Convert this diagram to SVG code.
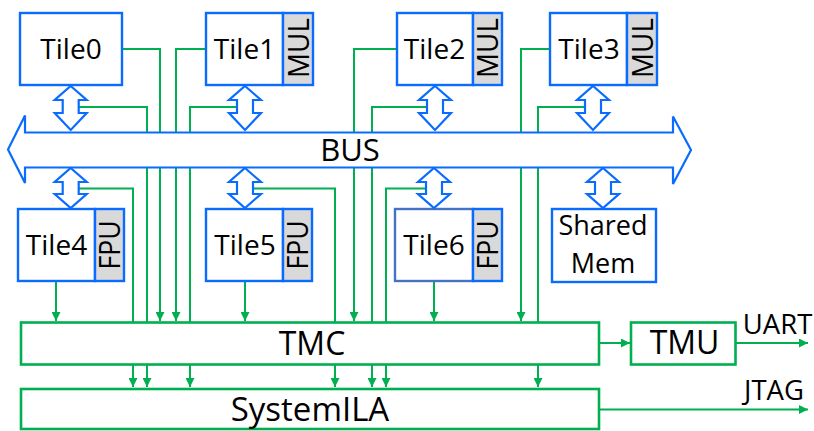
<svg xmlns="http://www.w3.org/2000/svg" width="814" height="431" viewBox="0 0 814 431">
  <style>
    .blk { fill: #ffffff; stroke: #0a6cff; stroke-width: 2.4; }
    .blk6 { fill: #ffffff; stroke: #4472c4; stroke-width: 2.4; }
    .unit { fill: #d9d9d9; stroke: #0a6cff; stroke-width: 2.4; }
    .dbl { fill: #ffffff; stroke: #0a6cff; stroke-width: 2.2; stroke-linejoin: miter; }
    .ctl { fill: #ffffff; stroke: #00b050; stroke-width: 2.6; }
    .wire { fill: none; stroke: #00b050; stroke-width: 2; }
    .arr { marker-end: url(#head); }
    text { font-family: "Open Sans", "Liberation Sans", sans-serif; fill: #000000; text-anchor: middle; }
    .lbl { font-size: 28px; }
    .vert { font-size: 29px; }
    .big { font-size: 32px; }
    .io { font-size: 27.5px; }
  </style>
  <defs>
    <marker id="head" viewBox="0 0 10 10" refX="10" refY="5" markerWidth="9" markerHeight="9" markerUnits="userSpaceOnUse" orient="auto">
      <path d="M0,0 L10,5 L0,10 Z" fill="#00b050"/>
    </marker>
    <!-- bidirectional link between a block and the bus -->
    <path id="link-up" d="M0,86 L16,100 L8,100 L8,113 L16,113 L0,130 L-16,113 L-8,113 L-8,100 L-16,100 Z"/>
    <path id="link-dn" d="M0,168 L16,182 L8,182 L8,194 L16,194 L0,208 L-16,194 L-8,194 L-8,182 L-16,182 Z"/>
  </defs>

  <!-- monitoring and output wires -->
  <g id="connectors">
    <path class="wire arr" d="M122,49 H160 V321"/>
    <path class="wire arr" d="M79,107 H147 V387"/>
    <path class="wire arr" d="M206,49 H176 V321"/>
    <path class="wire arr" d="M237,107 H190 V387"/>
    <path class="wire arr" d="M397,49 H354 V321"/>
    <path class="wire arr" d="M427,107 H372 V387"/>
    <path class="wire arr" d="M550,49 H521 V321"/>
    <path class="wire arr" d="M585,107 H538 V387"/>
    <path class="wire arr" d="M79,188.5 H133 V387"/>
    <path class="wire arr" d="M56,281 V321"/>
    <path class="wire arr" d="M253,188.5 H335 V387"/>
    <path class="wire arr" d="M245,281 V321"/>
    <path class="wire arr" d="M426,188.5 H386 V387"/>
    <path class="wire arr" d="M434,281 V321"/>
    <path class="wire arr" d="M599,343 H630"/>
    <path class="wire arr" d="M736,343 H808"/>
    <path class="wire arr" d="M599,409.5 H808"/>
  </g>

  <!-- shared bus -->
  <g id="bus">
    <path class="dbl" d="M8,149.5 L25,115.5 L25,132.5 L673,132.5 L673,116.5 L691,150 L673,184 L673,167.5 L25,167.5 L25,183 Z"/>
    <text class="lbl" x="350" y="160.5" style="font-size:31px">BUS</text>
  </g>

  <g id="tile0">
    <rect class="blk" x="20" y="13" width="102" height="72"/>
    <use href="#link-up" class="dbl" x="70.7"/>
    <text class="lbl" x="71" y="59">Tile0</text>
  </g>

  <g id="tile1">
    <rect class="blk" x="206" y="13" width="77" height="72"/>
    <rect class="unit" x="283" y="13" width="30" height="72"/>
    <use href="#link-up" class="dbl" x="245"/>
    <text class="lbl" x="244.5" y="59">Tile1</text>
    <text class="vert" transform="translate(308.5,48) rotate(-90)" textLength="60" lengthAdjust="spacingAndGlyphs">MUL</text>
  </g>

  <g id="tile2">
    <rect class="blk" x="397" y="13" width="76" height="72"/>
    <rect class="unit" x="473" y="13" width="29" height="72"/>
    <use href="#link-up" class="dbl" x="435"/>
    <text class="lbl" x="434.5" y="59">Tile2</text>
    <text class="vert" transform="translate(498,48) rotate(-90)" textLength="60" lengthAdjust="spacingAndGlyphs">MUL</text>
  </g>

  <g id="tile3">
    <rect class="blk" x="550" y="13" width="77" height="72"/>
    <rect class="unit" x="627" y="13" width="30" height="72"/>
    <use href="#link-up" class="dbl" x="593"/>
    <text class="lbl" x="589" y="59">Tile3</text>
    <text class="vert" transform="translate(652.5,48) rotate(-90)" textLength="60" lengthAdjust="spacingAndGlyphs">MUL</text>
  </g>

  <g id="tile4">
    <rect class="blk" x="18" y="209" width="77" height="72"/>
    <rect class="unit" x="95" y="209" width="29" height="72"/>
    <use href="#link-dn" class="dbl" x="70.7"/>
    <text class="lbl" x="56.5" y="255">Tile4</text>
    <text class="vert" transform="translate(120,245) rotate(-90)" textLength="49" lengthAdjust="spacingAndGlyphs">FPU</text>
  </g>

  <g id="tile5">
    <rect class="blk" x="206" y="209" width="77" height="72"/>
    <rect class="unit" x="283" y="209" width="29" height="72"/>
    <use href="#link-dn" class="dbl" x="245"/>
    <text class="lbl" x="245" y="255">Tile5</text>
    <text class="vert" transform="translate(308,245) rotate(-90)" textLength="49" lengthAdjust="spacingAndGlyphs">FPU</text>
  </g>

  <g id="tile6">
    <rect class="blk6" x="395" y="209" width="78" height="72"/>
    <rect class="unit" x="473" y="209" width="29" height="72"/>
    <use href="#link-dn" class="dbl" x="434"/>
    <text class="lbl" x="434" y="255">Tile6</text>
    <text class="vert" transform="translate(498,245) rotate(-90)" textLength="49" lengthAdjust="spacingAndGlyphs">FPU</text>
  </g>

  <g id="shared-mem">
    <rect class="blk" x="552" y="209" width="104" height="73"/>
    <use href="#link-dn" class="dbl" x="603"/>
    <text class="lbl" x="603" y="235" style="font-size:27px">Shared</text>
    <text class="lbl" x="603" y="273" style="font-size:27px">Mem</text>
  </g>

  <g id="tmc">
    <rect class="ctl" x="21" y="322.5" width="578" height="42"/>
    <text class="big" x="312" y="355">TMC</text>
  </g>

  <g id="tmu">
    <rect class="ctl" x="631" y="322.5" width="104.5" height="42"/>
    <text class="big" x="684.5" y="354">TMU</text>
  </g>

  <g id="system-ila">
    <rect class="ctl" x="21" y="389" width="578" height="40"/>
    <text class="big" x="310" y="421" style="font-size:33px">SystemILA</text>
  </g>

  <g id="ports">
    <text class="io" x="777.5" y="333.5">UART</text>
    <text class="io" x="774" y="400">JTAG</text>
  </g>
</svg>
